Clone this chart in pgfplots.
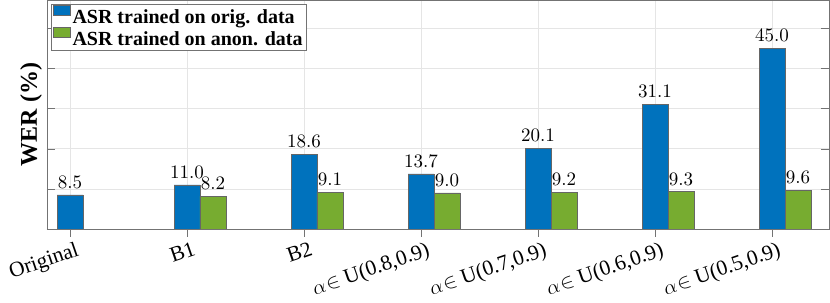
\documentclass[border=0pt]{standalone}
\usepackage{graphicx}
\usepackage{fontspec}
\setmainfont{Liberation Serif}
\usepackage{pgfplots}
\pgfplotsset{compat=1.18}
\definecolor{mblue}{rgb}{0,0.447,0.741}
\definecolor{mgreen}{rgb}{0.466,0.674,0.188}
\newcommand{\lmr}{\fontfamily{lmr}\fontsize{10}{12}\selectfont}
\newcommand{\ain}{$\alpha\mkern1mu{\in}$}
\begin{document}
\begin{tikzpicture}
\begin{axis}[
  scale only axis, width=782pt, height=229pt,
  xmin=-0.1966, xmax=6.487, ymin=0, ymax=57,
  ybar, bar width=0.222,
  xtick={0,...,6},
  xticklabels={Original,B1,B2,{\ain{} U(0.8,0.9)},{\ain{} U(0.7,0.9)},{\ain{} U(0.6,0.9)},{\ain{} U(0.5,0.9)}},
  ytick={0,10,...,50}, yticklabels={},
  grid=major, grid style={color=black!10, line width=0.5pt},
  axis line style={black!55}, major tick style={black!55}, major tick length=8pt,
  xticklabel style={font=\fontsize{21.5}{23}\selectfont, xshift=5pt, rotate=19, anchor=north east, inner sep=0pt},
  xticklabel shift=4pt,
  ylabel={WER (\%)},
  ylabel style={font=\bfseries\fontsize{24}{26}\selectfont, at={(axis description cs:-0.0128,0.5)}, anchor=base, inner sep=0pt},
  nodes near coords={\scalebox{1.9}{\lmr\pgfmathprintnumber[fixed, fixed zerofill, precision=1, assume math mode=true]{\pgfplotspointmeta}}},
  every node near coord/.append style={anchor=south, black, inner sep=6pt},
  legend style={at={(rel axis cs:0.005,0.9825)}, anchor=north west, font=\bfseries\fontsize{20}{22}\selectfont, draw=black!55, inner xsep=2pt, inner ysep=1pt, row sep=0pt, cells={anchor=west}},
  legend image code/.code={\draw[#1] (0pt,2pt) rectangle (17pt,12pt);},
]
\addplot[fill=mblue, draw=black!60, bar shift=0] coordinates {(0,8.5) (1,11.0) (2,18.6) (3,13.7) (4,20.1) (5,31.1) (6,45.0)};
\addplot[fill=mgreen, draw=black!60, bar shift=0.222] coordinates {(1,8.2) (2,9.1) (3,9.0) (4,9.2) (5,9.3) (6,9.6)};
\legend{ASR trained on orig. data, ASR trained on anon. data}
\end{axis}
\pgfresetboundingbox
\path ([xshift=-47pt,yshift=-74pt]current axis.south west) rectangle ([xshift=1pt]current axis.north east);
\end{tikzpicture}
\end{document}
